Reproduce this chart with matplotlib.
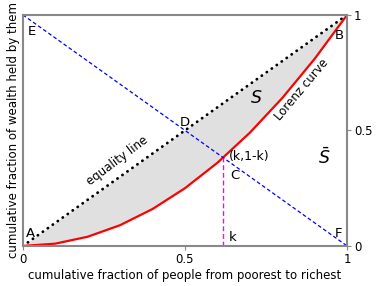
import numpy as np
import matplotlib
matplotlib.use('Agg')
import matplotlib.pyplot as plt

# Lorenz curve samples
people = [0.0, 0.1, 0.2, 0.3, 0.4, 0.5, 0.6, 0.7, 0.8, 0.9, 1.0]
wealth = [0.0, 0.01, 0.04, 0.09, 0.16, 0.25, 0.36, 0.49, 0.64, 0.81, 1.0]
k = 0.618
xticks = [0, 0.5, 1]
xticklabels = ['0', '0.5', '1']

plt.rcParams['font.size'] = 8.5
fig = plt.figure(figsize=(3.81, 2.86), dpi=100)
ax = fig.add_axes([0.060, 0.140, 0.851, 0.808])

people = np.array(people)
wealth = np.array(wealth)

ax.fill_between(people, people, wealth, color='#e0e0e0', lw=0)
ax.plot([0, 1], [0, 1], color='black', ls=(0, (0.1, 2.1)), lw=2.0,
        dash_capstyle='round')
ax.plot(people, wealth, color='red', lw=1.6)
ax.plot([0, 1], [1, 0], color='blue', ls=(0, (3, 2)), lw=0.9)
ax.plot([k, k], [0, 1 - k], color='magenta', ls=(0, (3.5, 2)), lw=1.0)

# point labels
ax.text(0.01, 0.04, 'A', fontsize=9.5)
ax.text(0.99, 0.895, 'B', fontsize=9.5, ha='right')
ax.text(0.64, 0.29, 'C', fontsize=9.5)
ax.text(0.5, 0.52, 'D', fontsize=9.5, ha='center')
ax.text(0.015, 0.93, 'E', fontsize=9.5, va='center')
ax.text(0.985, 0.04, 'F', fontsize=9.5, ha='right')
ax.text(0.635, 0.02, 'k', fontsize=9.5)
ax.text(0.635, 0.37, '(k,1-k)', fontsize=9)
ax.text(0.72, 0.64, '$S$', fontsize=12.5, ha='center', va='center')
ax.text(0.93, 0.38, r'$\bar{S}$', fontsize=12.5, ha='center', va='center')
ax.text(0.86, 0.675, 'Lorenz curve', rotation=50, ha='center', va='center')
ax.text(0.29, 0.37, 'equality line', rotation=37, ha='center', va='center')

ax.set_xlim(0, 1)
ax.set_ylim(0, 1)
ax.set_xticks(xticks)
ax.set_xticklabels(xticklabels)
ax.yaxis.tick_right()
ax.set_yticks(xticks)
ax.set_yticklabels(xticklabels)
ax.tick_params(length=3, color='#888888', pad=2)
for s in ax.spines.values():
    s.set_color('#888888')
    s.set_linewidth(1.5)

ax.set_xlabel('cumulative fraction of people from poorest to richest', labelpad=2)
ax.set_ylabel('cumulative fraction of wealth held by them', labelpad=2)
ax.yaxis.set_label_position('left')

fig.savefig('out.png', dpi=100)
